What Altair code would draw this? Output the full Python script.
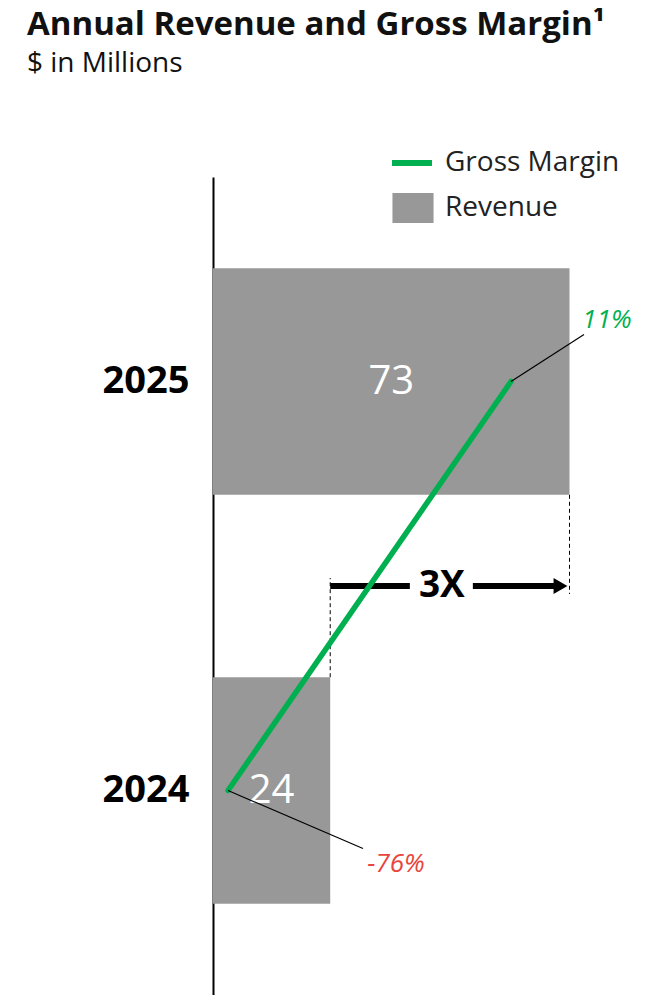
import altair as alt
import pandas as pd

# ---- data ----
years = [2024, 2025]
revenue = [24, 73]                 # $ in millions
gross_margin = [-76, 11]           # percent
margin_labels = ["-76%", "11%"]
growth_label = "3X"
series_revenue = "Revenue"
series_margin = "Gross Margin"

# ---- styles ----
GRAY = "#989898"
GREEN = "#00B050"
RED = "#E8453C"
FONT = "Open Sans"
BAR_HALF = 0.277   # half bar thickness in year units

df = pd.DataFrame({
    "year": years,
    "revenue": revenue,
    "margin": gross_margin,
    "label": margin_labels,
})
df["series_r"] = series_revenue
df["series_m"] = series_margin

growth = pd.DataFrame({
    "start": [revenue[0]],
    "end": [revenue[-1]],
    "ymid": [sum(years) / len(years)],
    "label": [growth_label],
})

rev_x = alt.Scale(domain=[0, 86], nice=False, zero=False)
mar_x = alt.Scale(domain=[-80.61, 48.51], nice=False, zero=False)
y_scale = alt.Scale(domain=[2023.5, 2025.5], nice=False, zero=False)
y_axis = alt.Axis(values=years, format="d", title=None, ticks=False, grid=False,
                  domain=True, domainColor="black", domainWidth=2,
                  labelFontSize=38, labelFontWeight="bold", labelColor="black",
                  labelFont=FONT, labelPadding=24)


def Y(field):
    return alt.Y(field, type="quantitative", scale=y_scale, axis=y_axis)


def RX(field):
    return alt.X(field, type="quantitative", scale=rev_x, axis=None)


def MX(field):
    return alt.X(field, type="quantitative", scale=mar_x, axis=None)


base = alt.Chart(df)

bars = base.transform_calculate(
    y0=f"datum.year - {BAR_HALF}", y1=f"datum.year + {BAR_HALF}", zero="0"
).mark_rect().encode(
    x=RX("zero"),
    x2="revenue:Q",
    y=Y("y0"),
    y2="y1:Q",
    fill=alt.Fill("series_r:N",
                  scale=alt.Scale(domain=[series_revenue], range=[GRAY]),
                  legend=alt.Legend(title=None, orient="none", legendX=185, legendY=16,
                                    symbolType="M-1.37,-1L1.37,-1L1.37,1L-1.37,1Z",
                                    symbolSize=900, symbolStrokeWidth=0,
                                    labelFontSize=28, labelFont=FONT, labelColor="#222",
                                    labelOffset=17, labelLimit=400, padding=0)),
)

bar_labels = base.transform_calculate(half="datum.revenue / 2").mark_text(
    color="white", fontSize=40, font=FONT, align="center", baseline="middle"
).encode(x=RX("half"), y=Y("year"), text="revenue:Q")

line = base.mark_line(strokeWidth=5.5, strokeCap="round").encode(
    x=MX("margin"),
    y=Y("year"),
    order="year:Q",
    stroke=alt.Stroke("series_m:N",
                      scale=alt.Scale(domain=[series_margin], range=[GREEN]),
                      legend=alt.Legend(title=None, orient="none", legendX=176, legendY=-37,
                                        symbolType="stroke", symbolSize=1600,
                                        symbolStrokeWidth=6,
                                        labelFontSize=28, labelFont=FONT, labelColor="#222",
                                        labelOffset=10, labelLimit=400, padding=0)),
)


def leader(year, dx, dy):
    return base.transform_filter(alt.datum.year == year).mark_rule(
        color="black", strokeWidth=1.2, x2Offset=dx, y2Offset=dy
    ).encode(x=MX("margin"), x2="margin:Q", y=Y("year"), y2="year:Q")


def pct(year, dx, dy, color):
    return base.transform_filter(alt.datum.year == year).mark_text(
        dx=dx, dy=dy, fontSize=26, fontStyle="italic", color=color, font=FONT,
        align="center", baseline="middle"
    ).encode(x=MX("margin"), y=Y("year"), text="label:N")


g = alt.Chart(growth).transform_calculate(
    mid="(datum.start + datum.end) / 2",
    top_low=f"{years[0]} + {BAR_HALF}",
    bot_high=f"{years[1]} - {BAR_HALF}",
)

dash_l = g.mark_rule(strokeDash=[4, 3], strokeWidth=1, color="black", y2Offset=-8).encode(
    x=RX("start"), y=Y("top_low"), y2="ymid:Q")
dash_r = g.mark_rule(strokeDash=[4, 3], strokeWidth=1, color="black", y2Offset=8).encode(
    x=RX("end"), y=Y("bot_high"), y2="ymid:Q")
arrow_l = g.mark_rule(strokeWidth=6, color="black", x2Offset=-40).encode(
    x=RX("start"), x2="mid:Q", y=Y("ymid"))
arrow_r = g.mark_rule(strokeWidth=6, color="black", xOffset=23, x2Offset=-10).encode(
    x=RX("mid"), x2="end:Q", y=Y("ymid"))
head = g.mark_point(shape="triangle-right", filled=True, size=256, color="black",
                    opacity=1, xOffset=-9).encode(x=RX("end"), y=Y("ymid"))
gtext = g.mark_text(dx=-8, fontSize=37, fontWeight="bold", font=FONT, color="black",
                    align="center", baseline="middle").encode(
    x=RX("mid"), y=Y("ymid"), text="label:N")

chart = alt.layer(
    bars, bar_labels, dash_l, dash_r, arrow_l, arrow_r, head, gtext,
    line, leader(years[1], 73, -47), leader(years[0], 135, 58),
    pct(years[1], 96, -62, GREEN), pct(years[0], 168, 73, RED),
).resolve_scale(x="independent").properties(
    width=420,
    height=818,
    autosize=alt.AutoSizeParams(type="none"),
    padding={"left": 205, "top": 169, "right": 10, "bottom": 0},
    title=alt.Title(
        text="Annual Revenue and Gross Margin\u00b9",
        subtitle="$ in Millions",
        anchor="start", frame="group", dx=-186, offset=62,
        font=FONT, fontSize=33, fontWeight="bold", color="#111",
        subtitleFont=FONT, subtitleFontSize=28, subtitleColor="#111",
        subtitlePadding=8,
    ),
).configure_view(stroke=None)

chart.save("out.html", embed_options={"renderer": "svg", "actions": False})
